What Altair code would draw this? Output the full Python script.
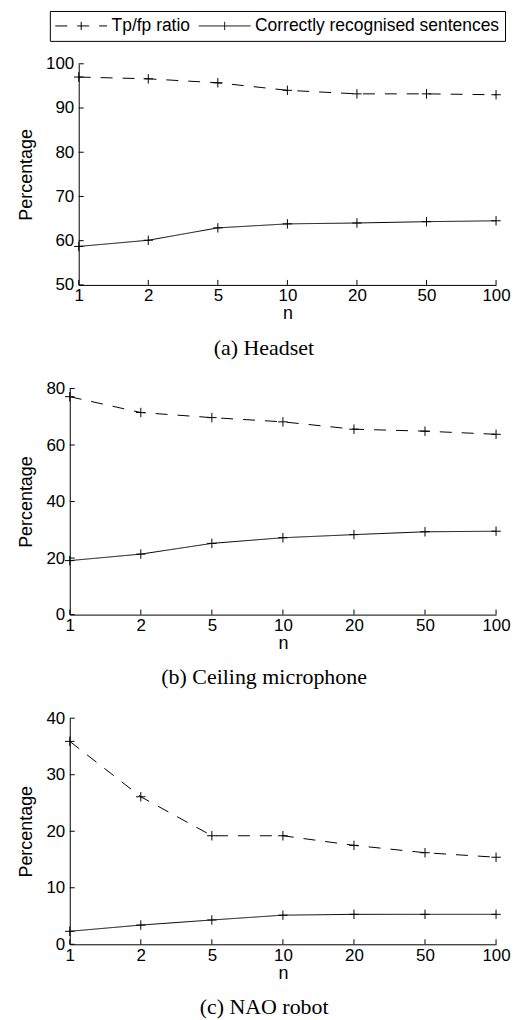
import altair as alt
import pandas as pd

n_values = ["1", "2", "5", "10", "20", "50", "100"]
series_names = ["Tp/fp ratio", "Correctly recognised sentences"]

headset_tpfp = [97.0, 96.6, 95.7, 94.0, 93.2, 93.2, 93.0]
headset_correct = [58.7, 60.1, 62.9, 63.8, 64.0, 64.3, 64.5]
ceiling_tpfp = [77.1, 71.5, 69.7, 68.2, 65.6, 64.9, 63.8]
ceiling_correct = [19.1, 21.4, 25.2, 27.2, 28.3, 29.3, 29.5]
nao_tpfp = [35.9, 26.1, 19.2, 19.2, 17.5, 16.2, 15.4]
nao_correct = [2.3, 3.4, 4.3, 5.15, 5.3, 5.3, 5.3]

headset_ticks = [50, 60, 70, 80, 90, 100]
ceiling_ticks = [0, 20, 40, 60, 80]
nao_ticks = [0, 10, 20, 30, 40]

captions = ["(a) Headset", "(b) Ceiling microphone", "(c) NAO robot"]

PLUS = "M-1,0H1M0,-1V1"
LEGEND_SYMBOL = "M-1,0H1M0,-0.16V0.16"

legend = alt.Legend(
    title=None,
    orient="none",
    legendX=-20,
    legendY=-53,
    direction="horizontal",
    symbolType=LEGEND_SYMBOL,
    symbolSize=2704,
    symbolStrokeWidth=1,
    symbolStrokeColor="black",
    clipHeight=20,
    labelFont="Liberation Sans",
    labelFontSize=17.5,
    labelColor="black",
    labelLimit=0,
    labelOffset=4,
    columnPadding=8,
    padding=5,
    strokeColor="black",
    fillColor="white",
)

W = 428
TICK = 5


def panel(tpfp, correct, ydom, yticks, caption, height, inset):
    df = pd.DataFrame({
        "n": n_values * 2,
        "value": tpfp + correct,
        "series": [s for s in series_names for _ in n_values],
    })
    xticks_df = pd.DataFrame({"n": n_values})
    yticks_df = pd.DataFrame({"value": yticks})

    xscale = alt.Scale(type="point", padding=0, range=[inset, W])
    yscale = alt.Scale(domain=ydom, nice=False, zero=False)
    xaxis = alt.Axis(title="n", labelAngle=0, labelPadding=3, titlePadding=1)
    yaxis = alt.Axis(
        title="Percentage", values=yticks, labelPadding=5, titlePadding=10,
        offset=-inset,
    )
    x = alt.X("n:O", sort=n_values, scale=xscale, axis=xaxis)
    y = alt.Y("value:Q", scale=yscale, axis=yaxis)
    line = alt.Chart(df).mark_line(color="black", strokeWidth=1).encode(
        x=x, y=y,
        strokeDash=alt.StrokeDash(
            "series:N", sort=series_names,
            scale=alt.Scale(domain=series_names, range=[[12, 10], [1, 0]]),
            legend=legend,
        ),
    )
    pts = alt.Chart(df).mark_point(
        shape=PLUS, size=90, filled=False, color="black", strokeWidth=1, opacity=1
    ).encode(x=x, y=y)
    xt = alt.Chart(xticks_df).mark_rule(color="black", strokeWidth=1).encode(
        x=x,
        y=alt.value(height - TICK),
        y2=alt.value(height),
    )
    yt = alt.Chart(yticks_df).mark_rule(color="black", strokeWidth=1).encode(
        y=y,
        x=alt.value(inset),
        x2=alt.value(inset + TICK),
    )
    return alt.layer(line, pts, xt, yt).properties(
        width=W, height=height,
        title=alt.TitleParams(
            caption, orient="bottom", anchor="middle", frame="bounds",
            font="Liberation Serif", fontSize=22, fontWeight="normal",
            color="black", offset=15,
        ),
    )


p1 = panel(headset_tpfp, headset_correct, [50, 100], headset_ticks, captions[0], 222, 9)
p2 = panel(ceiling_tpfp, ceiling_correct, [0, 80], ceiling_ticks, captions[1], 227, 0)
p3 = panel(nao_tpfp, nao_correct, [0, 40], nao_ticks, captions[2], 227, 0)

chart = alt.concat(p1, p2, p3, columns=1, spacing=21).properties(
    padding={"left": 9, "top": 0, "right": 0, "bottom": 0}
).configure_view(stroke=None).configure_axis(
    domainColor="black", domainWidth=1,
    ticks=False, tickSize=0, grid=False,
    labelFont="Liberation Sans", labelFontSize=17, labelColor="black",
    titleFont="Liberation Sans", titleFontSize=18, titleFontWeight="normal", titleColor="black",
)

chart.save("out.html", embed_options={"renderer": "svg", "actions": False})
